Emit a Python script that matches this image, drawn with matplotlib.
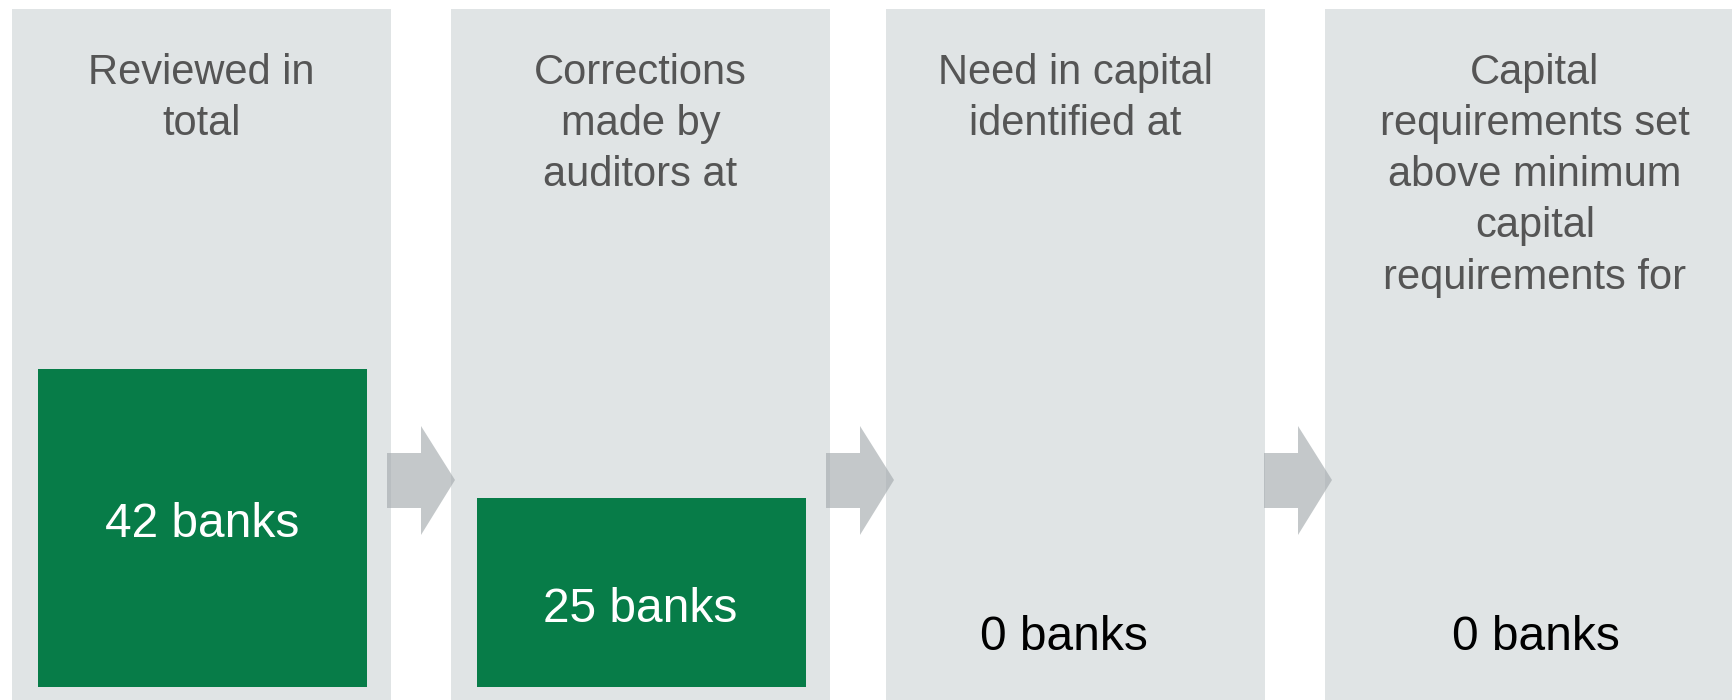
import numpy as np
import matplotlib.pyplot as plt
from matplotlib.patches import Polygon

plt.rcParams["font.family"] = ["Liberation Sans", "DejaVu Sans"]

# =========================
# data
# =========================
stages = [
    "Reviewed in\ntotal",
    "Corrections\nmade by\nauditors at",
    "Need in capital\nidentified at",
    "Capital\nrequirements set\nabove minimum\ncapital\nrequirements for",
]
banks = [42, 25, 0, 0]
labels = [f"{n} banks" for n in banks]

# =========================
# layout (pixels, measured from top-left)
# =========================
W, H = 1733, 700
px = 7.57          # pixels per bank
base = 13          # gap under the green bars
panel_left = [12, 451, 886, 1325]
panel_w = [379, 379, 379, 420]
panel_top = 9
inset = 26
box_w = 329
label_x = [202, 640, 1064, 1536]
label_base = [537, 622, 650, 650]
arrow_left = [387, 826, 1264]

panel_col = "#e0e4e5"
green = "#077c48"
title_col = "#555555"


def yv(y):
    # pixel row (from top) -> data value
    return (H - base - y) / px


fig = plt.figure(figsize=(W / 100, H / 100), dpi=100)
ax = fig.add_axes([0, 0, 1, 1])
ax.set_xlim(0, W)
ax.set_ylim(yv(H), yv(0))
ax.axis("off")

# grey panels
ax.bar(panel_left, yv(panel_top) - yv(H), width=panel_w, bottom=yv(H),
       align="edge", color=panel_col, linewidth=0)

# green bars
ax.bar(np.array(panel_left) + inset, banks, width=box_w, bottom=0,
       align="edge", color=green, linewidth=0)

# arrows
for x0 in arrow_left:
    pts = [(x0, 453), (x0 + 34, 453), (x0 + 34, 426), (x0 + 68, 480),
           (x0 + 34, 535), (x0 + 34, 508), (x0, 508)]
    ax.add_patch(Polygon([(x, yv(y)) for x, y in pts], closed=True,
                         facecolor="#a5abae", alpha=0.65, linewidth=0))

# titles
for i, t in enumerate(stages):
    cx = panel_left[i] + panel_w[i] / 2
    ax.text(cx, yv(53), t, ha="center", va="top", fontsize=30,
            color=title_col, linespacing=1.36)

# values
for i, lab in enumerate(labels):
    col = "white" if banks[i] > 0 else "black"
    ax.text(label_x[i], yv(label_base[i]), lab, ha="center", va="baseline",
            fontsize=34.5, color=col)

fig.savefig("out.png", dpi=100)
